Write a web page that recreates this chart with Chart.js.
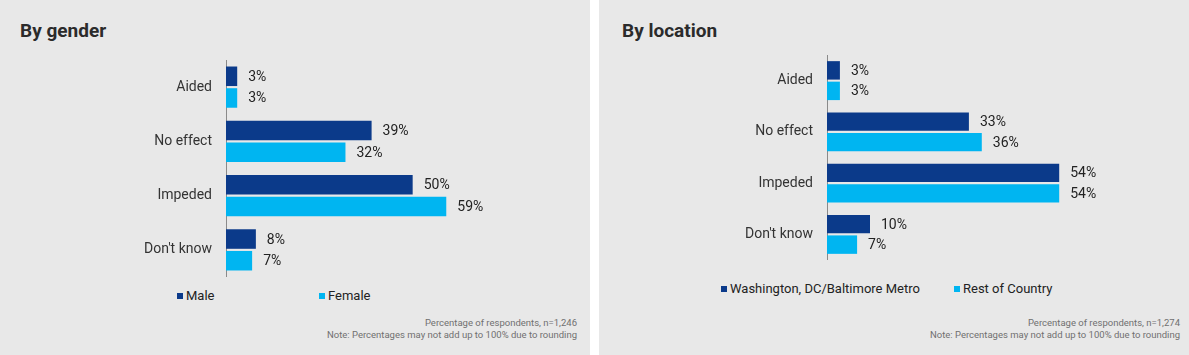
<!DOCTYPE html>
<html>
<head>
<meta charset="utf-8">
<script src="https://cdn.jsdelivr.net/npm/chart.js@4/dist/chart.umd.min.js"></script>
<style>
  body { margin: 0; background: #fff; font-family: Roboto, sans-serif; }
  .panel { position: absolute; top: 0; width: 590px; height: 355px; background: #e8e8e8; }
  .title { position: absolute; top: 19px; font-size: 19px; font-weight: bold; color: #2b2b2b; }
  canvas { position: absolute; left: 0; }
  .legend { position: absolute; font-size: 13px; color: #222; }
  .legend span.item { position: absolute; white-space: nowrap; top: 0; }
  .legend i { display: inline-block; width: 6px; height: 6px; margin-right: 3px; vertical-align: 1px; }
  .note { position: absolute; right: 13px; top: 317px; font-size: 9.5px; line-height: 12px; color: #707070; text-align: right; }
</style>
</head>
<body>

<div class="panel" style="left:0">
  <div class="title" style="left:20px">By gender</div>
  <canvas id="chartGender" width="590" height="217" style="top:60px"></canvas>
  <div class="legend" id="legendGender" style="top:288px"></div>
  <div class="note">Percentage of respondents, n=1,246<br>Note: Percentages may not add up to 100% due to rounding</div>
</div>

<div class="panel" style="left:599px">
  <div class="title" style="left:23px">By location</div>
  <canvas id="chartLocation" width="590" height="205" style="top:55px"></canvas>
  <div class="legend" id="legendLocation" style="top:281px"></div>
  <div class="note" style="right:9px">Percentage of respondents, n=1,274<br>Note: Percentages may not add up to 100% due to rounding</div>
</div>

<script>
var categories = ['Aided', 'No effect', 'Impeded', "Don't know"];

// by gender
var male = [3, 39, 50, 8];
var female = [3, 32, 59, 7];

// by location
var dcMetro = [3, 33, 54, 10];
var restOfCountry = [3, 36, 54, 7];

var darkBlue = '#0b3a8a';
var lightBlue = '#00b5f1';

// writes the "xx%" next to each bar
var valueLabels = {
  id: 'valueLabels',
  afterDatasetsDraw: function(chart) {
    var ctx = chart.ctx;
    ctx.save();
    ctx.font = '14px Roboto';
    ctx.fillStyle = '#222';
    ctx.textBaseline = 'middle';
    chart.data.datasets.forEach(function(ds, i) {
      chart.getDatasetMeta(i).data.forEach(function(bar, j) {
        ctx.fillText(ds.data[j] + '%', bar.x + 11, bar.y + 1);
      });
    });
    ctx.restore();
  }
};

function makeChart(id, labelA, dataA, labelB, dataB, axisWidth, max, padRight) {
  var ctx = document.getElementById(id).getContext('2d');
  return new Chart(ctx, {
    type: 'bar',
    data: {
      labels: categories,
      datasets: [
        { label: labelA, data: dataA, backgroundColor: darkBlue, barPercentage: 0.9, categoryPercentage: 0.8 },
        { label: labelB, data: dataB, backgroundColor: lightBlue, barPercentage: 0.9, categoryPercentage: 0.8 }
      ]
    },
    options: {
      indexAxis: 'y',
      responsive: false,
      animation: false,
      layout: { padding: { top: 0, bottom: 0, left: 0, right: padRight } },
      plugins: { legend: { display: false }, tooltip: { enabled: false } },
      scales: {
        x: { display: false, min: 0, max: max },
        y: {
          // fixed axis width, and no extra room above/below the bars
          afterFit: function(scale) {
            scale.width = axisWidth;
            scale.paddingTop = 0;
            scale.paddingBottom = 0;
          },
          grid: { display: false, drawTicks: false },
          border: { display: true, color: '#8a8a8a', width: 1 },
          ticks: { padding: 14, color: '#333', font: { family: 'Roboto', size: 14 } }
        }
      }
    },
    plugins: [valueLabels]
  });
}

function makeLegend(id, chart, positions) {
  var el = document.getElementById(id);
  chart.data.datasets.forEach(function(ds, i) {
    var s = document.createElement('span');
    s.className = 'item';
    s.style.left = positions[i] + 'px';
    s.innerHTML = '<i style="background:' + ds.backgroundColor + '"></i>' + ds.label;
    el.appendChild(s);
  });
}

var gender = makeChart('chartGender', 'Male', male, 'Female', female, 226, 90, 28);
var location2 = makeChart('chartLocation', 'Washington, DC/Baltimore Metro', dcMetro, 'Rest of Country', restOfCountry, 228, 80, 18);

makeLegend('legendGender', gender, [177, 319]);
makeLegend('legendLocation', location2, [122, 355]);
</script>
</body>
</html>
